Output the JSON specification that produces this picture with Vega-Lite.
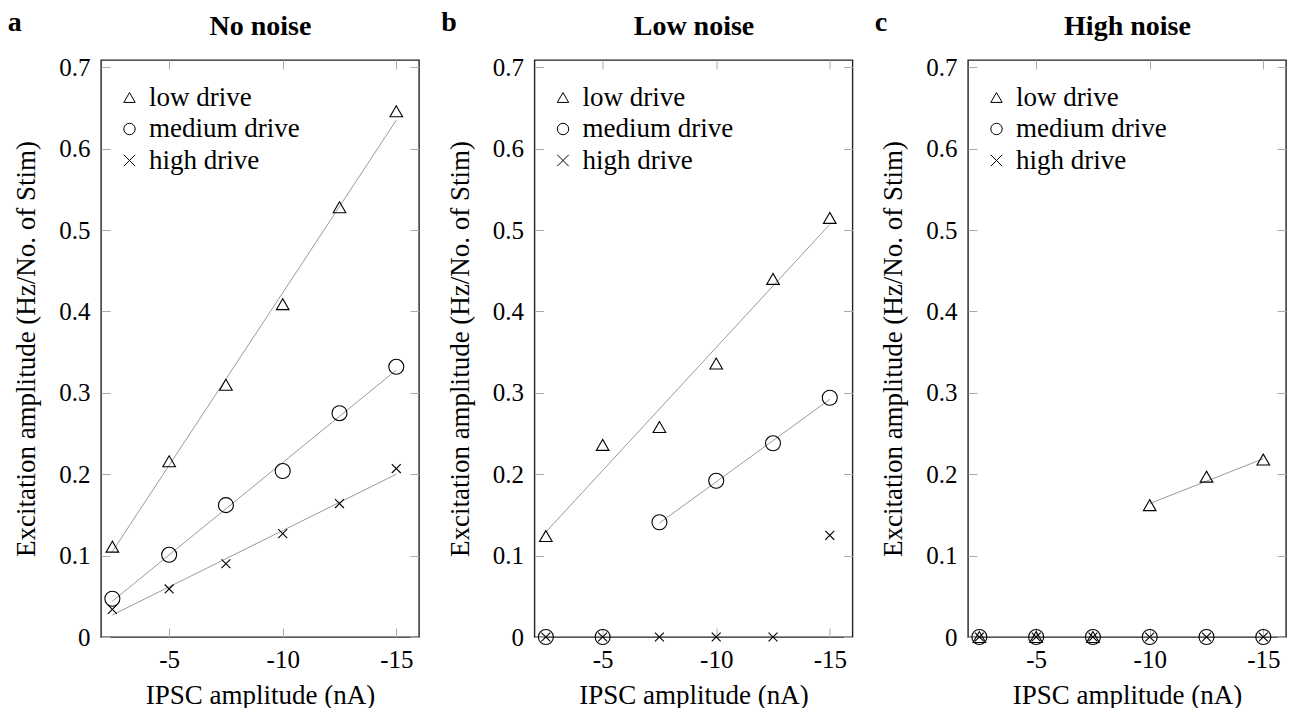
{
  "$schema": "https://vega.github.io/schema/vega-lite/v6.json",
  "background": "white",
  "padding": {"left": 7, "top": 7, "right": 0, "bottom": 0},
  "spacing": 19.5,
  "datasets": {
    "pts": [
      {"panel": "a", "series": "low drive", "x": -2.5, "y": 0.111},
      {"panel": "a", "series": "low drive", "x": -5, "y": 0.216},
      {"panel": "a", "series": "low drive", "x": -7.5, "y": 0.31},
      {"panel": "a", "series": "low drive", "x": -10, "y": 0.409},
      {"panel": "a", "series": "low drive", "x": -12.5, "y": 0.528},
      {"panel": "a", "series": "low drive", "x": -15, "y": 0.646},
      {"panel": "a", "series": "medium drive", "x": -2.5, "y": 0.047},
      {"panel": "a", "series": "medium drive", "x": -5, "y": 0.101},
      {"panel": "a", "series": "medium drive", "x": -7.5, "y": 0.162},
      {"panel": "a", "series": "medium drive", "x": -10, "y": 0.204},
      {"panel": "a", "series": "medium drive", "x": -12.5, "y": 0.275},
      {"panel": "a", "series": "medium drive", "x": -15, "y": 0.332},
      {"panel": "a", "series": "high drive", "x": -2.5, "y": 0.034},
      {"panel": "a", "series": "high drive", "x": -5, "y": 0.059},
      {"panel": "a", "series": "high drive", "x": -7.5, "y": 0.09},
      {"panel": "a", "series": "high drive", "x": -10, "y": 0.127},
      {"panel": "a", "series": "high drive", "x": -12.5, "y": 0.164},
      {"panel": "a", "series": "high drive", "x": -15, "y": 0.207},
      {"panel": "b", "series": "low drive", "x": -2.5, "y": 0.124},
      {"panel": "b", "series": "low drive", "x": -5, "y": 0.236},
      {"panel": "b", "series": "low drive", "x": -7.5, "y": 0.258},
      {"panel": "b", "series": "low drive", "x": -10, "y": 0.336},
      {"panel": "b", "series": "low drive", "x": -12.5, "y": 0.44},
      {"panel": "b", "series": "low drive", "x": -15, "y": 0.515},
      {"panel": "b", "series": "medium drive", "x": -2.5, "y": 0},
      {"panel": "b", "series": "medium drive", "x": -5, "y": 0},
      {"panel": "b", "series": "medium drive", "x": -7.5, "y": 0.141},
      {"panel": "b", "series": "medium drive", "x": -10, "y": 0.192},
      {"panel": "b", "series": "medium drive", "x": -12.5, "y": 0.238},
      {"panel": "b", "series": "medium drive", "x": -15, "y": 0.294},
      {"panel": "b", "series": "high drive", "x": -2.5, "y": 0},
      {"panel": "b", "series": "high drive", "x": -5, "y": 0},
      {"panel": "b", "series": "high drive", "x": -7.5, "y": 0},
      {"panel": "b", "series": "high drive", "x": -10, "y": 0},
      {"panel": "b", "series": "high drive", "x": -12.5, "y": 0},
      {"panel": "b", "series": "high drive", "x": -15, "y": 0.125},
      {"panel": "c", "series": "low drive", "x": -2.5, "y": 0},
      {"panel": "c", "series": "low drive", "x": -5, "y": 0},
      {"panel": "c", "series": "low drive", "x": -7.5, "y": 0},
      {"panel": "c", "series": "low drive", "x": -10, "y": 0.162},
      {"panel": "c", "series": "low drive", "x": -12.5, "y": 0.197},
      {"panel": "c", "series": "low drive", "x": -15, "y": 0.218},
      {"panel": "c", "series": "medium drive", "x": -2.5, "y": 0},
      {"panel": "c", "series": "medium drive", "x": -5, "y": 0},
      {"panel": "c", "series": "medium drive", "x": -7.5, "y": 0},
      {"panel": "c", "series": "medium drive", "x": -10, "y": 0},
      {"panel": "c", "series": "medium drive", "x": -12.5, "y": 0},
      {"panel": "c", "series": "medium drive", "x": -15, "y": 0},
      {"panel": "c", "series": "high drive", "x": -2.5, "y": 0},
      {"panel": "c", "series": "high drive", "x": -5, "y": 0},
      {"panel": "c", "series": "high drive", "x": -7.5, "y": 0},
      {"panel": "c", "series": "high drive", "x": -10, "y": 0},
      {"panel": "c", "series": "high drive", "x": -12.5, "y": 0},
      {"panel": "c", "series": "high drive", "x": -15, "y": 0}
    ],
    "fit": [
      {"panel": "a", "series": "low drive", "x": -2.5, "y": 0.105},
      {"panel": "a", "series": "low drive", "x": -15, "y": 0.635},
      {"panel": "a", "series": "medium drive", "x": -2.5, "y": 0.044},
      {"panel": "a", "series": "medium drive", "x": -15, "y": 0.328},
      {"panel": "a", "series": "high drive", "x": -2.5, "y": 0.027},
      {"panel": "a", "series": "high drive", "x": -15, "y": 0.2},
      {"panel": "b", "series": "low drive", "x": -2.5, "y": 0.129},
      {"panel": "b", "series": "low drive", "x": -15, "y": 0.507},
      {"panel": "b", "series": "medium drive", "x": -7.5, "y": 0.14},
      {"panel": "b", "series": "medium drive", "x": -15, "y": 0.292},
      {"panel": "c", "series": "low drive", "x": -10, "y": 0.164},
      {"panel": "c", "series": "low drive", "x": -15, "y": 0.219}
    ]
  },
  "resolve": {
    "scale": {"x": "independent", "y": "independent", "shape": "independent"},
    "legend": {"shape": "independent"}
  },
  "hconcat": [
    {
      "width": 318, "height": 577,
      "title": {"text": "a"},
      "data": {"name": "pts"},
      "layer": [
        {
          "data": {"name": "fit"},
          "transform": [{"filter": "datum.panel === 'a'"}],
          "mark": {"type": "line", "color": "#9a9a9a", "strokeWidth": 1},
          "encoding": {
            "x": {"field": "x", "type": "quantitative", "scale": {"domain": [-16, -2], "reverse": true, "nice": false, "zero": false}, "axis": {"orient": "top", "values": [-5, -10, -15], "labels": false, "title": "No noise", "titleFontWeight": "bold", "titleFontSize": 28, "titlePadding": 19}},
            "y": {"field": "y", "type": "quantitative", "scale": {"domain": [0, 0.709], "nice": false}, "axis": {"orient": "right", "values": [0, 0.1, 0.2, 0.3, 0.4, 0.5, 0.6, 0.7], "labels": false, "title": null}},
            "detail": {"field": "series"}
          }
        },
        {
          "transform": [{"filter": "datum.panel === 'a' && datum.series === 'low drive'"}],
          "mark": {"type": "point", "filled": false, "color": "black", "strokeWidth": 1.1, "opacity": 1, "size": 160},
          "encoding": {
            "x": {"field": "x", "type": "quantitative", "axis": {"orient": "bottom", "values": [-5, -10, -15], "labelExpr": "'' + datum.value", "title": "IPSC amplitude (nA)"}},
            "y": {"field": "y", "type": "quantitative", "axis": {"orient": "left", "values": [0, 0.1, 0.2, 0.3, 0.4, 0.5, 0.6, 0.7], "format": ".1~f", "title": "Excitation amplitude (Hz/No. of Stim)"}},
            "shape": {"field": "series", "type": "nominal", "scale": {"domain": ["low drive", "medium drive", "high drive"], "range": ["triangle-up", "circle", "M-1,-1L1,1M-1,1L1,-1"]}, "legend": {"orient": "none", "legendX": 15, "legendY": 24}}
          }
        },
        {
          "transform": [{"filter": "datum.panel === 'a' && datum.series === 'medium drive'"}],
          "mark": {"type": "point", "filled": false, "color": "black", "strokeWidth": 1.1, "opacity": 1, "size": 225},
          "encoding": {
            "x": {"field": "x", "type": "quantitative", "axis": null},
            "y": {"field": "y", "type": "quantitative", "axis": null},
            "shape": {"field": "series", "type": "nominal", "scale": {"domain": ["low drive", "medium drive", "high drive"], "range": ["triangle-up", "circle", "M-1,-1L1,1M-1,1L1,-1"]}, "legend": {"orient": "none", "legendX": 15, "legendY": 24}}
          }
        },
        {
          "transform": [{"filter": "datum.panel === 'a' && datum.series === 'high drive'"}],
          "mark": {"type": "point", "filled": false, "color": "black", "strokeWidth": 1.1, "opacity": 1, "size": 80},
          "encoding": {
            "x": {"field": "x", "type": "quantitative", "axis": null},
            "y": {"field": "y", "type": "quantitative", "axis": null},
            "shape": {"field": "series", "type": "nominal", "scale": {"domain": ["low drive", "medium drive", "high drive"], "range": ["triangle-up", "circle", "M-1,-1L1,1M-1,1L1,-1"]}, "legend": {"orient": "none", "legendX": 15, "legendY": 24}}
          }
        }
      ]
    },
    {
      "width": 318, "height": 577,
      "title": {"text": "b"},
      "data": {"name": "pts"},
      "layer": [
        {
          "data": {"name": "fit"},
          "transform": [{"filter": "datum.panel === 'b'"}],
          "mark": {"type": "line", "color": "#9a9a9a", "strokeWidth": 1},
          "encoding": {
            "x": {"field": "x", "type": "quantitative", "scale": {"domain": [-16, -2], "reverse": true, "nice": false, "zero": false}, "axis": {"orient": "top", "values": [-5, -10, -15], "labels": false, "title": "Low noise", "titleFontWeight": "bold", "titleFontSize": 28, "titlePadding": 19}},
            "y": {"field": "y", "type": "quantitative", "scale": {"domain": [0, 0.709], "nice": false}, "axis": {"orient": "right", "values": [0, 0.1, 0.2, 0.3, 0.4, 0.5, 0.6, 0.7], "labels": false, "title": null}},
            "detail": {"field": "series"}
          }
        },
        {
          "transform": [{"filter": "datum.panel === 'b' && datum.series === 'low drive'"}],
          "mark": {"type": "point", "filled": false, "color": "black", "strokeWidth": 1.1, "opacity": 1, "size": 160},
          "encoding": {
            "x": {"field": "x", "type": "quantitative", "axis": {"orient": "bottom", "values": [-5, -10, -15], "labelExpr": "'' + datum.value", "title": "IPSC amplitude (nA)"}},
            "y": {"field": "y", "type": "quantitative", "axis": {"orient": "left", "values": [0, 0.1, 0.2, 0.3, 0.4, 0.5, 0.6, 0.7], "format": ".1~f", "title": "Excitation amplitude (Hz/No. of Stim)"}},
            "shape": {"field": "series", "type": "nominal", "scale": {"domain": ["low drive", "medium drive", "high drive"], "range": ["triangle-up", "circle", "M-1,-1L1,1M-1,1L1,-1"]}, "legend": {"orient": "none", "legendX": 15, "legendY": 24}}
          }
        },
        {
          "transform": [{"filter": "datum.panel === 'b' && datum.series === 'medium drive'"}],
          "mark": {"type": "point", "filled": false, "color": "black", "strokeWidth": 1.1, "opacity": 1, "size": 225},
          "encoding": {
            "x": {"field": "x", "type": "quantitative", "axis": null},
            "y": {"field": "y", "type": "quantitative", "axis": null},
            "shape": {"field": "series", "type": "nominal", "scale": {"domain": ["low drive", "medium drive", "high drive"], "range": ["triangle-up", "circle", "M-1,-1L1,1M-1,1L1,-1"]}, "legend": {"orient": "none", "legendX": 15, "legendY": 24}}
          }
        },
        {
          "transform": [{"filter": "datum.panel === 'b' && datum.series === 'high drive'"}],
          "mark": {"type": "point", "filled": false, "color": "black", "strokeWidth": 1.1, "opacity": 1, "size": 80},
          "encoding": {
            "x": {"field": "x", "type": "quantitative", "axis": null},
            "y": {"field": "y", "type": "quantitative", "axis": null},
            "shape": {"field": "series", "type": "nominal", "scale": {"domain": ["low drive", "medium drive", "high drive"], "range": ["triangle-up", "circle", "M-1,-1L1,1M-1,1L1,-1"]}, "legend": {"orient": "none", "legendX": 15, "legendY": 24}}
          }
        }
      ]
    },
    {
      "width": 318, "height": 577,
      "title": {"text": "c"},
      "data": {"name": "pts"},
      "layer": [
        {
          "data": {"name": "fit"},
          "transform": [{"filter": "datum.panel === 'c'"}],
          "mark": {"type": "line", "color": "#9a9a9a", "strokeWidth": 1},
          "encoding": {
            "x": {"field": "x", "type": "quantitative", "scale": {"domain": [-16, -2], "reverse": true, "nice": false, "zero": false}, "axis": {"orient": "top", "values": [-5, -10, -15], "labels": false, "title": "High noise", "titleFontWeight": "bold", "titleFontSize": 28, "titlePadding": 19}},
            "y": {"field": "y", "type": "quantitative", "scale": {"domain": [0, 0.709], "nice": false}, "axis": {"orient": "right", "values": [0, 0.1, 0.2, 0.3, 0.4, 0.5, 0.6, 0.7], "labels": false, "title": null}},
            "detail": {"field": "series"}
          }
        },
        {
          "transform": [{"filter": "datum.panel === 'c' && datum.series === 'low drive'"}],
          "mark": {"type": "point", "filled": false, "color": "black", "strokeWidth": 1.1, "opacity": 1, "size": 160},
          "encoding": {
            "x": {"field": "x", "type": "quantitative", "axis": {"orient": "bottom", "values": [-5, -10, -15], "labelExpr": "'' + datum.value", "title": "IPSC amplitude (nA)"}},
            "y": {"field": "y", "type": "quantitative", "axis": {"orient": "left", "values": [0, 0.1, 0.2, 0.3, 0.4, 0.5, 0.6, 0.7], "format": ".1~f", "title": "Excitation amplitude (Hz/No. of Stim)"}},
            "shape": {"field": "series", "type": "nominal", "scale": {"domain": ["low drive", "medium drive", "high drive"], "range": ["triangle-up", "circle", "M-1,-1L1,1M-1,1L1,-1"]}, "legend": {"orient": "none", "legendX": 15, "legendY": 24}}
          }
        },
        {
          "transform": [{"filter": "datum.panel === 'c' && datum.series === 'medium drive'"}],
          "mark": {"type": "point", "filled": false, "color": "black", "strokeWidth": 1.1, "opacity": 1, "size": 225},
          "encoding": {
            "x": {"field": "x", "type": "quantitative", "axis": null},
            "y": {"field": "y", "type": "quantitative", "axis": null},
            "shape": {"field": "series", "type": "nominal", "scale": {"domain": ["low drive", "medium drive", "high drive"], "range": ["triangle-up", "circle", "M-1,-1L1,1M-1,1L1,-1"]}, "legend": {"orient": "none", "legendX": 15, "legendY": 24}}
          }
        },
        {
          "transform": [{"filter": "datum.panel === 'c' && datum.series === 'high drive'"}],
          "mark": {"type": "point", "filled": false, "color": "black", "strokeWidth": 1.1, "opacity": 1, "size": 80},
          "encoding": {
            "x": {"field": "x", "type": "quantitative", "axis": null},
            "y": {"field": "y", "type": "quantitative", "axis": null},
            "shape": {"field": "series", "type": "nominal", "scale": {"domain": ["low drive", "medium drive", "high drive"], "range": ["triangle-up", "circle", "M-1,-1L1,1M-1,1L1,-1"]}, "legend": {"orient": "none", "legendX": 15, "legendY": 24}}
          }
        }
      ]
    }
  ],
  "config": {
    "font": "Liberation Serif",
    "view": {"stroke": "#222", "strokeWidth": 1.4},
    "axis": {
      "domain": false, "grid": false,
      "tickColor": "#aaaaaa", "tickSize": -9, "tickWidth": 1,
      "labelFont": "Liberation Serif", "labelFontSize": 25, "labelColor": "black",
      "titleFont": "Liberation Serif", "titleFontSize": 27, "titleFontWeight": "normal", "titleColor": "black"
    },
    "axisY": {"titlePadding": 18, "labelPadding": 20},
    "axisX": {"titlePadding": 10, "labelPadding": 19},
    "legend": {
      "title": null, "padding": 0, "labelFont": "Liberation Serif", "labelFontSize": 27, "labelColor": "black",
      "symbolSize": 130, "symbolStrokeWidth": 1, "symbolStrokeColor": "black", "symbolType": "circle", "rowPadding": 3.5, "labelOffset": 6
    },
    "title": {"anchor": "start", "frame": "bounds", "font": "Liberation Serif", "fontSize": 28, "fontWeight": "bold", "color": "black", "offset": 0, "dy": 28, "dx": -5}
  }
}
